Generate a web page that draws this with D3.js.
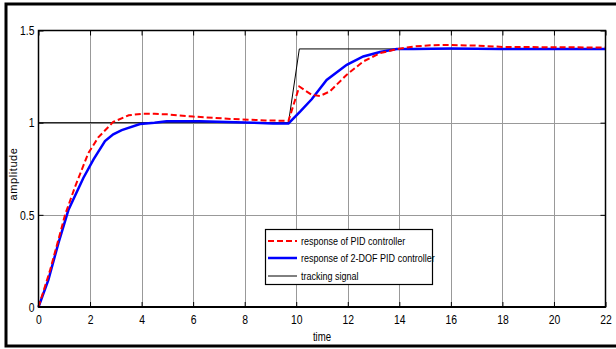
<!DOCTYPE html>
<html><head><meta charset="utf-8">
<script src="https://cdn.jsdelivr.net/npm/d3@7"></script>
<style>
html,body{margin:0;padding:0;background:#fff;}
text{font-family:"Liberation Sans",Arial,sans-serif;}
</style></head>
<body>
<svg id="chart" width="616" height="349"></svg>
<script>
// ---- data ----
const xTicks = [0,2,4,6,8,10,12,14,16,18,20,22];
const yTicks = [0,0.5,1,1.5];
const yTickLabels = ["0","0.5","1","1.5"];

const pidTime = [0,0.45,0.84,1.03,1.42,1.93,2.32,2.9,3.5,4.0,4.5,5.0,6.0,7.5,8.8,9.7,10.12,10.6,10.92,11.3,11.96,12.6,13.25,13.9,14.55,15.2,15.8,17.0,18.0,20.0,22.0];
const pidValue = [0,0.2,0.4,0.5,0.653,0.834,0.92,1.004,1.04,1.048,1.048,1.045,1.033,1.02,1.012,1.01,1.196,1.151,1.145,1.169,1.26,1.332,1.377,1.399,1.413,1.42,1.422,1.418,1.411,1.409,1.408];

const dofTime = [0,0.38,0.77,1.16,1.74,2.13,2.58,2.9,3.23,3.94,4.5,4.97,6.26,8.34,9.1,9.7,10.15,10.6,11.18,11.96,12.6,13.25,13.9,14.55,16,18,22];
const dofValue = [0,0.146,0.345,0.526,0.70,0.80,0.90,0.937,0.96,0.993,1.0,1.008,1.008,1.0,0.996,0.996,1.06,1.127,1.232,1.314,1.359,1.383,1.399,1.40,1.402,1.40,1.40];

const refTime = [0,9.7,10.12,22];
const refValue = [1,1,1.4,1.4];

const legendLabels = ["response of PID controller","response of 2-DOF PID controller","tracking signal"];
const xLabel = "time";
const yLabel = "amplitude";

// ---- drawing ----
const svg = d3.select("#chart");
const pL = 38.5, pR = 605.5, pT = 30.5, pB = 307;
const x = d3.scaleLinear().domain([0,22]).range([pL,pR]);
const y = d3.scaleLinear().domain([0,1.5]).range([pB,pT]);
const squeeze = 0.8;

// outer frame
svg.append("rect").attr("x",6).attr("y",4).attr("width",614).attr("height",342)
  .attr("fill","none").attr("stroke","#000").attr("stroke-width",3);

// grid
const g = svg.append("g");
g.selectAll(".vg").data(xTicks.slice(1,-1)).join("line")
  .attr("x1",d=>Math.round(x(d))+0.5).attr("x2",d=>Math.round(x(d))+0.5)
  .attr("y1",pT).attr("y2",pB).attr("stroke","#999").attr("stroke-width",1);
g.selectAll(".hg").data(yTicks.slice(1,-1)).join("line")
  .attr("y1",d=>Math.round(y(d))+0.5).attr("y2",d=>Math.round(y(d))+0.5)
  .attr("x1",pL).attr("x2",pR).attr("stroke","#999").attr("stroke-width",1);

// axes (MATLAB style, ticks inward)
const axB = d3.axisBottom(x).tickValues(xTicks).tickSize(-5).tickPadding(8).tickFormat(d3.format("d"));
const axT = d3.axisTop(x).tickValues(xTicks).tickSize(-5).tickFormat("");
const axL = d3.axisLeft(y).tickValues(yTicks).tickSize(-5).tickPadding(5).tickFormat((d,i)=>yTickLabels[i]);
const axR = d3.axisRight(y).tickValues(yTicks).tickSize(-5).tickFormat("");
function style(sel){
  sel.select(".domain").remove();
  sel.selectAll("line").attr("stroke","#000");
  sel.selectAll("text").attr("font-size","13px").attr("fill","#000")
    .attr("transform",`scale(${squeeze},1)`);
}
svg.append("g").attr("transform",`translate(0,${pB})`).call(axB).call(style);
svg.append("g").attr("transform",`translate(0,${pT})`).call(axT).call(style);
svg.append("g").attr("transform",`translate(${pL},0)`).call(axL).call(style);
svg.append("g").attr("transform",`translate(${pR},0)`).call(axR).call(style);

// lines
const line = d3.line().x(d=>x(d[0])).y(d=>y(d[1]));
svg.append("path").datum(refTime.map((t,i)=>[t,refValue[i]]))
  .attr("d",line).attr("fill","none").attr("stroke","#000").attr("stroke-width",1);
svg.append("path").datum(dofTime.map((t,i)=>[t,dofValue[i]]))
  .attr("d",line).attr("fill","none").attr("stroke","#0000ff").attr("stroke-width",2.5);
svg.append("path").datum(pidTime.map((t,i)=>[t,pidValue[i]]))
  .attr("d",line).attr("fill","none").attr("stroke","#ff0000").attr("stroke-width",2)
  .attr("stroke-dasharray","6,3");

// plot box
svg.append("rect").attr("x",pL).attr("y",pT).attr("width",pR-pL).attr("height",pB-pT)
  .attr("fill","none").attr("stroke","#000").attr("stroke-width",1.5);
svg.append("line").attr("x1",pL).attr("x2",pR).attr("y1",pB).attr("y2",pB)
  .attr("stroke","#000").attr("stroke-width",2);

// axis labels
svg.append("text").attr("transform",`translate(${(pL+pR)/2},341) scale(${squeeze},1)`)
  .attr("text-anchor","middle").attr("font-size","12px").text(xLabel);
svg.append("text").attr("transform",`translate(17,174) rotate(-90)`)
  .attr("text-anchor","middle").attr("font-size","11px")
  .style("letter-spacing","0.6px").text(yLabel);

// legend
const lg = svg.append("g");
lg.append("rect").attr("x",265.5).attr("y",229.5).attr("width",167).attr("height",55)
  .attr("fill","#fff").attr("stroke","#000").attr("stroke-width",1.2);
const styles = [
  {c:"#ff0000",w:2,dash:"6,3"},
  {c:"#0000ff",w:2.5,dash:null},
  {c:"#000",w:1,dash:null}
];
const rows = [241,258,276];
legendLabels.forEach((lab,i)=>{
  lg.append("line").attr("x1",268).attr("x2",297).attr("y1",rows[i]).attr("y2",rows[i])
    .attr("stroke",styles[i].c).attr("stroke-width",styles[i].w)
    .attr("stroke-dasharray",styles[i].dash);
  lg.append("text").attr("transform",`translate(301,${rows[i]}) scale(0.82,1)`)
    .attr("dy","0.35em").attr("font-size","11px").text(lab);
});
</script>
</body></html>
